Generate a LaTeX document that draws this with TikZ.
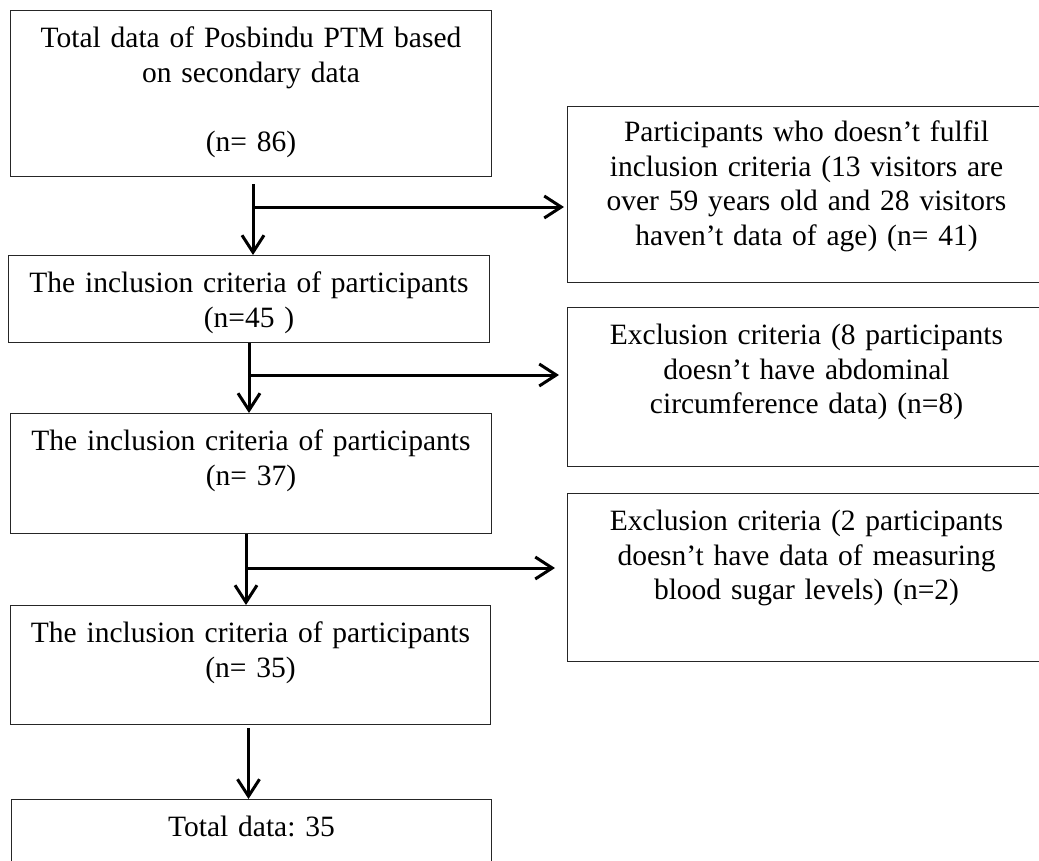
\documentclass[tikz,border=0pt]{standalone}
\usepackage{fontspec}
\setmainfont{Liberation Serif}
\frenchspacing
\usetikzlibrary{arrows.meta,calc}
\tikzset{
  flowbox/.style={draw=black!85, line width=1pt, anchor=north west, align=center,
    inner xsep=0pt, inner ysep=0pt, text height=37pt,
    font=\fontsize{29.5}{34.5}\selectfont},
  flowarrow/.style={line width=3pt, -{Straight Barb[length=17pt,width=22pt]}}
}

\begin{document}
\begin{tikzpicture}[x=1pt,y=-1pt]
			%%%%% START %%%%%
			\path[use as bounding box, clip] (0,0) rectangle (1039,860);
			
			\node[flowbox, text width=481pt, text depth=129pt] (total) at (10,10) {Total data of Posbindu PTM based\\on secondary data\\[34.5pt](n= 86)};
			\node[flowbox, text width=481pt, text depth=50pt] (incl1) at (8,255) {The inclusion criteria of participants\\(n=45 )};
			\node[flowbox, text width=481pt, text depth=83pt] (incl2) at (10,413) {The inclusion criteria of participants\\(n= 37)};
			\node[flowbox, text width=480pt, text depth=82pt] (incl3) at (10,605) {The inclusion criteria of participants\\(n= 35)};
			\node[flowbox, text width=480pt, text depth=60pt] (final) at (11,799) {Total data: 35};
			
			\node[flowbox, text width=478pt, text depth=141pt, text height=35pt] (notfit) at (567,106) {Participants who doesn't fulfil\\inclusion criteria (13 visitors are\\over 59 years old and 28 visitors\\haven't data of age) (n= 41)};
			\node[flowbox, text width=478pt, text depth=122pt] (excl1) at (567,307) {Exclusion criteria (8 participants\\doesn't have abdominal\\circumference data) (n=8)};
			\node[flowbox, text width=478pt, text depth=131pt] (excl2) at (567,493) {Exclusion criteria (2 participants\\doesn't have data of measuring\\blood sugar levels) (n=2)};
			
			% down the left column
			\draw[flowarrow] ([xshift=2pt,yshift=-7pt]total.south) -- ([xshift=2pt]total.south |- incl1.north);
			\draw[flowarrow] (incl1.south) -- (incl1.south |- incl2.north);
			\draw[flowarrow] ([xshift=-5pt]incl2.south) -- ([xshift=-5pt]incl2.south |- incl3.north);
			\draw[flowarrow] ([xshift=-2pt,yshift=-3pt]incl3.south) -- ([xshift=-2pt]incl3.south |- final.north);
			
			% out to the right
			\coordinate (j1) at ($(total.south)+(2,30)$);
			\coordinate (j2) at ($(incl1.south)+(0,32)$);
			\coordinate (j3) at ($(incl2.south)+(-5,34)$);
			\draw[flowarrow, shorten >=3pt] (j1) -- (j1 -| notfit.west);
			\draw[flowarrow, shorten >=8pt] (j2) -- (j2 -| excl1.west);
			\draw[flowarrow, shorten >=12pt] (j3) -- (j3 -| excl2.west);
			
			%%%%% END %%%%%
\end{tikzpicture}
\end{document}
